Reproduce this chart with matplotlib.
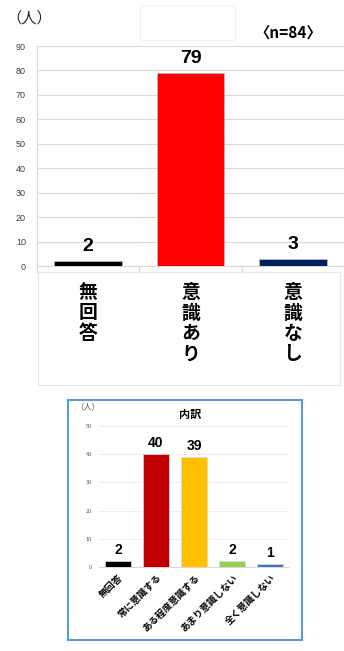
import matplotlib
matplotlib.use("Agg")
import matplotlib.pyplot as plt
from matplotlib.patches import Rectangle

plt.rcParams['font.family'] = ['Noto Sans CJK JP', 'DejaVu Sans']
num_font = ['Liberation Sans', 'Noto Sans CJK JP']

# top chart data
main_labels = ["無回答", "意識あり", "意識なし"]
main_values = [2, 79, 3]
main_colors = ["#000000", "#FF0000", "#002060"]

# breakdown chart data
sub_labels = ["無回答", "常に意識する", "ある程度意識する", "あまり意識しない", "全く意識しない"]
sub_values = [2, 40, 39, 2, 1]
sub_colors = ["#000000", "#C00000", "#FFC000", "#92D050", "#4472C4"]

W, H = 344, 651
fig = plt.figure(figsize=(W / 100, H / 100), dpi=100)


def fbox(x0, y0, x1, y1):
    # pixel box (top-left origin) -> figure fraction rect
    return [x0 / W, 1 - y1 / H, (x1 - x0) / W, (y1 - y0) / H]


grid_col = "#D9D9D9"

# ---- top chart ----
ax = fig.add_axes(fbox(37, 46, 344, 266))
xs = range(len(main_values))
ax.bar(xs, main_values, width=0.66, color=main_colors, edgecolor="#BFBFBF", linewidth=0.5, zorder=3)
ax.set_xlim(-0.5, 2.5)
ax.set_ylim(0, 90)
ax.set_yticks(range(0, 91, 10))
ax.yaxis.grid(True, color=grid_col, linewidth=0.8, zorder=0)
ax.tick_params(axis="y", length=0, labelsize=6.5, labelcolor="#404040", pad=8)
for t in ax.get_yticklabels():
    t.set_family(num_font)
ax.set_xticks([-0.5, 0.5, 1.5])
ax.set_xticklabels([])
ax.tick_params(axis="x", length=5, color=grid_col, width=0.8)
for s in ["top", "right"]:
    ax.spines[s].set_visible(False)
ax.spines["left"].set_color(grid_col)
ax.spines["bottom"].set_color(grid_col)
for i, v in enumerate(main_values):
    ax.text(i, v + 2.5, str(v), ha="center", va="bottom", fontsize=14, fontweight="bold",
            family=num_font)

# category label box under the top chart
fig.patches.append(Rectangle((38 / W, 1 - 385 / H), 302 / W, 113 / H, transform=fig.transFigure,
                             fill=False, edgecolor="#E6E6E6", linewidth=0.8))
for i, lab in enumerate(main_labels):
    xpix = 37 + (i + 0.5) * (307 / 3)
    fig.text(xpix / W, 1 - 283 / H, "\n".join(lab), ha="center", va="top",
             fontsize=13.5, fontweight="bold", linespacing=1.1)

fig.text(6 / W, 1 - 18 / H, "（人）", ha="left", va="center", fontsize=11, color="#262626")
fig.text(288 / W, 1 - 33 / H, "〈n=84〉", ha="center", va="center", fontsize=11, fontweight="bold")
fig.patches.append(Rectangle((140 / W, 1 - 40 / H), 95 / W, 35 / H, transform=fig.transFigure,
                             fill=False, edgecolor="#F0F0F0", linewidth=0.6))

# ---- breakdown chart ----
fig.patches.append(Rectangle((68 / W, 1 - 640 / H), 234 / W, 240 / H, transform=fig.transFigure,
                             fill=False, edgecolor="#5B9BD5", linewidth=1.5))
ax2 = fig.add_axes(fbox(99, 426, 289, 567))
xs2 = range(len(sub_values))
ax2.bar(xs2, sub_values, width=0.68, color=sub_colors, edgecolor="#D9D9D9", linewidth=0.5, zorder=3)
ax2.set_xlim(-0.5, 4.5)
ax2.set_ylim(0, 50)
ax2.set_yticks(range(0, 51, 10))
ax2.yaxis.grid(True, color="#EBEBEB", linewidth=0.6, zorder=0)
ax2.tick_params(axis="y", length=0, labelsize=4, labelcolor="#595959", pad=5)
ax2.set_xticks(list(xs2))
ax2.set_xticklabels(sub_labels, rotation=45, ha="right", va="top", rotation_mode="anchor",
                    fontsize=6.8, fontweight="bold")
ax2.tick_params(axis="x", length=0, pad=4)
for s in ["top", "right", "left"]:
    ax2.spines[s].set_visible(False)
ax2.spines["bottom"].set_color("#D9D9D9")
for i, v in enumerate(sub_values):
    ax2.text(i, v + 1.5, str(v), ha="center", va="bottom", fontsize=10, fontweight="bold",
             family=num_font)

fig.text(75 / W, 1 - 407 / H, "（人）", ha="left", va="center", fontsize=6, color="#595959")
fig.text(190 / W, 1 - 414 / H, "内訳", ha="center", va="center", fontsize=8, fontweight="bold")

fig.savefig("out.png", dpi=100)
